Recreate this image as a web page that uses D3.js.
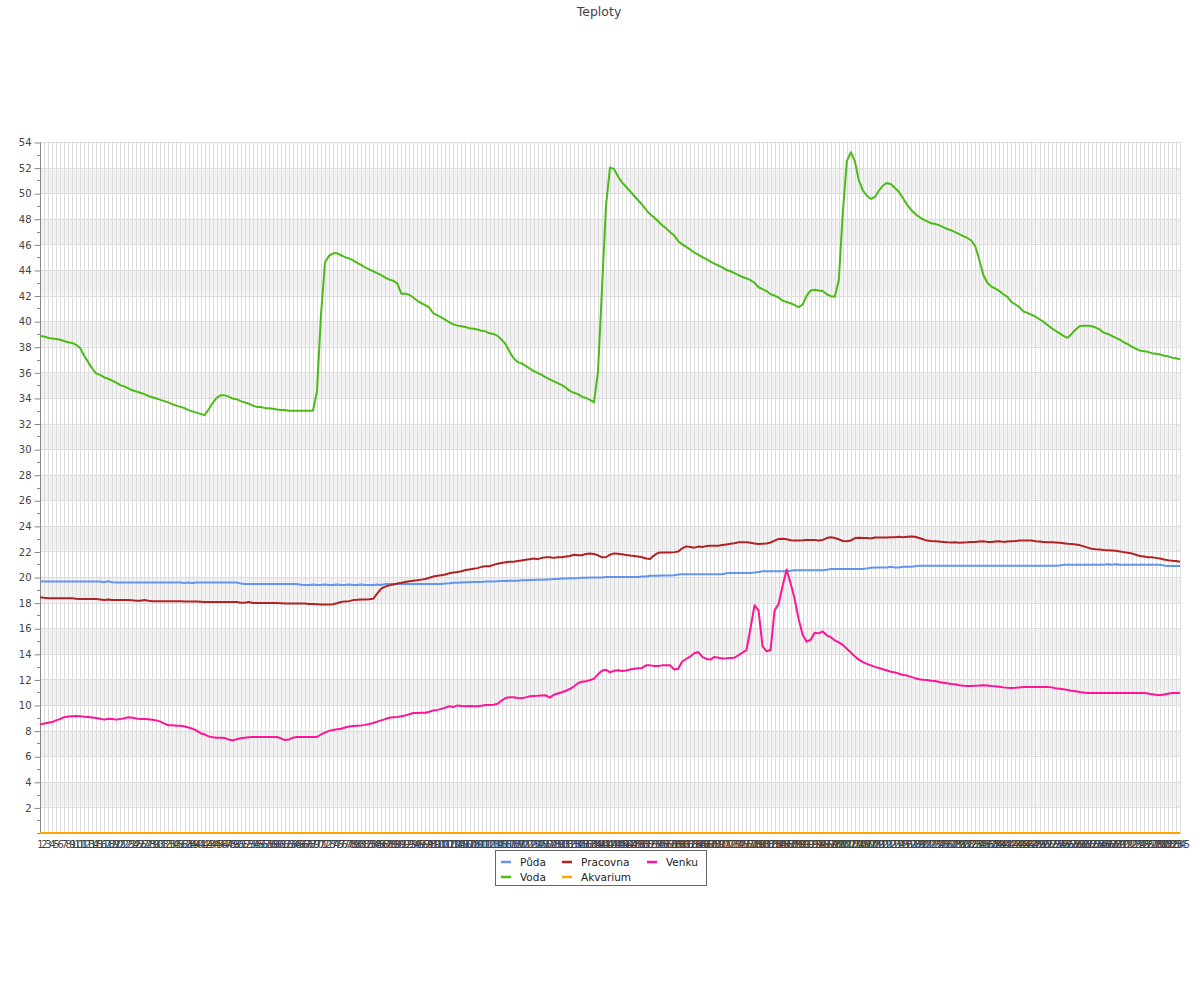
<!DOCTYPE html>
<html>
<head>
<meta charset="utf-8">
<script src="https://cdn.jsdelivr.net/npm/d3@7"></script>
<style>
  html, body { margin: 0; padding: 0; background: #fff; }
  svg { display: block; font-family: "DejaVu Sans", sans-serif; }
</style>
</head>
<body>
<svg id="chart" width="1200" height="1000"></svg>
<script>
// ---------- DATA ----------
const title = "Teploty";
const categories = d3.range(1, 286).map(String); // labels 1..285
const seriesNames = ["Půda", "Voda", "Pracovna", "Akvarium", "Venku"];
const seriesColors = ["#6495ED", "#4CBB17", "#B22222", "#FFA500", "#FF1493"];
const yTicks = [2,4,6,8,10,12,14,16,18,20,22,24,26,28,30,32,34,36,38,40,42,44,46,48,50,52,54];

const puda = [
19.65,19.65,19.65,19.65,19.65,19.65,19.65,19.65,19.65,19.65,
19.65,19.65,19.65,19.65,19.65,19.65,19.6,19.68,19.6,19.58,
19.58,19.58,19.58,19.58,19.58,19.58,19.58,19.58,19.58,19.58,
19.58,19.58,19.58,19.58,19.58,19.58,19.53,19.58,19.53,19.58,
19.58,19.58,19.58,19.58,19.58,19.58,19.58,19.58,19.58,19.58,
19.5,19.45,19.45,19.45,19.45,19.45,19.45,19.45,19.45,19.45,
19.45,19.45,19.45,19.45,19.45,19.4,19.38,19.38,19.42,19.38,
19.38,19.42,19.38,19.38,19.42,19.38,19.38,19.42,19.38,19.38,
19.42,19.38,19.38,19.38,19.42,19.38,19.45,19.45,19.45,19.45,
19.45,19.45,19.45,19.45,19.45,19.45,19.45,19.45,19.45,19.45,
19.45,19.5,19.52,19.55,19.55,19.58,19.6,19.6,19.62,19.62,
19.62,19.65,19.65,19.65,19.68,19.7,19.7,19.72,19.72,19.72,
19.75,19.75,19.78,19.78,19.8,19.8,19.82,19.82,19.85,19.85,
19.88,19.88,19.9,19.9,19.92,19.95,19.95,19.97,19.97,19.97,
19.97,20.0,20.0,20.0,20.0,20.0,20.0,20.0,20.0,20.0,
20.05,20.05,20.1,20.1,20.1,20.12,20.12,20.12,20.15,20.2,
20.22,20.22,20.22,20.22,20.22,20.22,20.22,20.22,20.22,20.22,
20.22,20.3,20.32,20.32,20.32,20.32,20.32,20.32,20.35,20.4,
20.45,20.45,20.45,20.45,20.45,20.45,20.45,20.5,20.53,20.53,
20.53,20.53,20.53,20.53,20.53,20.53,20.58,20.63,20.63,20.63,
20.63,20.63,20.63,20.63,20.63,20.63,20.68,20.72,20.75,20.75,
20.75,20.75,20.8,20.75,20.75,20.8,20.8,20.8,20.85,20.88,
20.88,20.88,20.88,20.88,20.88,20.88,20.88,20.88,20.88,20.88,
20.88,20.88,20.88,20.88,20.88,20.88,20.88,20.88,20.88,20.88,
20.88,20.88,20.88,20.88,20.88,20.88,20.88,20.88,20.88,20.88,
20.88,20.88,20.88,20.88,20.9,20.96,20.96,20.96,20.96,20.96,
20.96,20.96,20.96,20.96,20.96,20.96,21.0,20.96,21.0,20.96,
20.96,20.96,20.96,20.96,20.96,20.96,20.96,20.96,20.96,20.96,
20.9,20.86,20.86,20.86,20.86
];

const voda = [
38.85,38.8,38.7,38.65,38.6,38.55,38.45,38.35,38.3,38.15,
37.9,37.3,36.8,36.3,35.9,35.8,35.6,35.5,35.35,35.2,
35.0,34.9,34.75,34.6,34.5,34.4,34.3,34.15,34.05,33.95,
33.85,33.75,33.65,33.5,33.4,33.3,33.2,33.05,32.95,32.85,
32.75,32.65,33.1,33.6,34.0,34.2,34.2,34.1,33.95,33.9,
33.75,33.65,33.55,33.4,33.3,33.3,33.2,33.2,33.15,33.1,
33.05,33.05,33.0,33.0,33.0,33.0,33.0,33.0,33.0,34.5,
40.5,44.6,45.1,45.3,45.3,45.15,45.0,44.9,44.75,44.55,
44.4,44.2,44.05,43.9,43.75,43.6,43.4,43.25,43.15,42.95,
42.15,42.15,42.05,41.85,41.6,41.4,41.25,41.05,40.6,40.45,
40.3,40.1,39.9,39.75,39.65,39.6,39.55,39.45,39.4,39.35,
39.25,39.2,39.05,39.0,38.85,38.55,38.2,37.6,37.1,36.8,
36.7,36.5,36.3,36.1,35.95,35.8,35.6,35.45,35.3,35.15,
35.0,34.8,34.55,34.4,34.3,34.1,34.0,33.85,33.65,36.0,
42.5,49.0,52.0,51.9,51.3,50.85,50.5,50.15,49.8,49.45,
49.1,48.7,48.35,48.1,47.8,47.5,47.25,46.95,46.7,46.25,
46.0,45.8,45.6,45.35,45.2,45.0,44.85,44.65,44.5,44.35,
44.2,44.0,43.9,43.75,43.6,43.45,43.35,43.2,43.0,42.65,
42.5,42.35,42.1,42.0,41.85,41.6,41.5,41.4,41.25,41.1,
41.3,42.0,42.4,42.45,42.4,42.35,42.1,41.95,41.9,43.2,
48.5,52.5,53.2,52.5,51.0,50.2,49.8,49.55,49.7,50.2,
50.6,50.8,50.7,50.4,50.1,49.6,49.1,48.7,48.4,48.15,
47.95,47.8,47.65,47.6,47.5,47.35,47.2,47.1,46.95,46.8,
46.65,46.5,46.3,45.85,44.8,43.6,43.0,42.7,42.55,42.35,
42.1,41.9,41.5,41.3,41.1,40.75,40.65,40.5,40.35,40.15,
39.95,39.7,39.45,39.25,39.05,38.85,38.7,39.0,39.35,39.6,
39.65,39.65,39.6,39.5,39.35,39.1,39.0,38.85,38.7,38.55,
38.35,38.2,38.0,37.85,37.7,37.65,37.6,37.5,37.45,37.4,
37.3,37.25,37.15,37.1,37.03
];

const pracovna = [
18.42,18.38,18.35,18.35,18.35,18.35,18.35,18.35,18.35,18.3,
18.28,18.28,18.28,18.28,18.28,18.25,18.2,18.25,18.2,18.2,
18.2,18.2,18.2,18.18,18.15,18.15,18.2,18.15,18.12,18.12,
18.12,18.12,18.12,18.12,18.12,18.12,18.1,18.1,18.1,18.1,
18.08,18.05,18.05,18.05,18.05,18.05,18.05,18.05,18.05,18.05,
18.0,18.0,18.05,17.97,17.97,17.97,17.97,17.97,17.97,17.97,
17.95,17.93,17.93,17.93,17.93,17.93,17.93,17.9,17.9,17.88,
17.85,17.85,17.85,17.88,17.95,18.05,18.1,18.12,18.2,18.22,
18.25,18.25,18.27,18.3,18.7,19.1,19.25,19.35,19.42,19.5,
19.55,19.62,19.68,19.72,19.75,19.8,19.85,19.95,20.05,20.1,
20.15,20.2,20.3,20.35,20.4,20.45,20.55,20.6,20.65,20.7,
20.8,20.85,20.85,20.95,21.05,21.1,21.15,21.2,21.2,21.25,
21.3,21.35,21.4,21.45,21.4,21.5,21.55,21.55,21.5,21.55,
21.55,21.6,21.65,21.75,21.7,21.7,21.8,21.85,21.8,21.7,
21.55,21.55,21.75,21.85,21.82,21.78,21.72,21.68,21.65,21.6,
21.55,21.45,21.42,21.7,21.9,21.92,21.92,21.92,21.95,22.0,
22.25,22.4,22.35,22.3,22.38,22.35,22.42,22.45,22.45,22.45,
22.5,22.55,22.6,22.65,22.72,22.72,22.72,22.68,22.62,22.58,
22.6,22.62,22.7,22.85,22.98,23.0,22.95,22.88,22.85,22.85,
22.87,22.9,22.9,22.9,22.85,22.9,23.05,23.12,23.05,22.95,
22.82,22.8,22.85,23.05,23.08,23.05,23.05,23.02,23.1,23.1,
23.1,23.1,23.12,23.12,23.15,23.12,23.15,23.18,23.15,23.05,
22.95,22.85,22.82,22.8,22.78,22.75,22.72,22.7,22.72,22.68,
22.7,22.72,22.75,22.75,22.78,22.8,22.75,22.75,22.78,22.8,
22.75,22.78,22.8,22.82,22.85,22.85,22.85,22.85,22.8,22.78,
22.75,22.72,22.72,22.7,22.68,22.65,22.6,22.58,22.55,22.5,
22.4,22.3,22.22,22.18,22.15,22.12,22.1,22.08,22.05,22.0,
21.95,21.9,21.85,21.75,21.65,21.6,21.55,21.55,21.5,21.45,
21.38,21.32,21.28,21.25,21.2
];

const akvarium = [
0,0,0,0,0,0,0,0,0,0, 0,0,0,0,0,0,0,0,0,0, 0,0,0,0,0,0,0,0,0,0,
0,0,0,0,0,0,0,0,0,0, 0,0,0,0,0,0,0,0,0,0, 0,0,0,0,0,0,0,0,0,0,
0,0,0,0,0,0,0,0,0,0, 0,0,0,0,0,0,0,0,0,0, 0,0,0,0,0,0,0,0,0,0,
0,0,0,0,0,0,0,0,0,0, 0,0,0,0,0,0,0,0,0,0, 0,0,0,0,0,0,0,0,0,0,
0,0,0,0,0,0,0,0,0,0, 0,0,0,0,0,0,0,0,0,0, 0,0,0,0,0,0,0,0,0,0,
0,0,0,0,0,0,0,0,0,0, 0,0,0,0,0,0,0,0,0,0, 0,0,0,0,0,0,0,0,0,0,
0,0,0,0,0,0,0,0,0,0, 0,0,0,0,0,0,0,0,0,0, 0,0,0,0,0,0,0,0,0,0,
0,0,0,0,0,0,0,0,0,0, 0,0,0,0,0,0,0,0,0,0, 0,0,0,0,0,0,0,0,0,0,
0,0,0,0,0,0,0,0,0,0, 0,0,0,0,0,0,0,0,0,0, 0,0,0,0,0,0,0,0,0,0,
0,0,0,0,0,0,0,0,0,0, 0,0,0,0,0
];

const venku = [
8.49,8.55,8.62,8.67,8.8,8.9,9.05,9.1,9.12,9.14,
9.12,9.08,9.06,9.02,8.98,8.92,8.86,8.93,8.9,8.86,
8.9,8.96,9.05,9.0,8.95,8.9,8.9,8.88,8.85,8.8,
8.7,8.55,8.42,8.42,8.38,8.38,8.33,8.25,8.15,8.0,
7.8,7.7,7.55,7.48,7.45,7.44,7.43,7.3,7.24,7.32,
7.4,7.45,7.48,7.5,7.5,7.5,7.5,7.5,7.5,7.5,
7.4,7.26,7.3,7.45,7.5,7.5,7.5,7.5,7.5,7.5,
7.7,7.85,7.98,8.05,8.1,8.15,8.25,8.33,8.36,8.39,
8.41,8.45,8.52,8.6,8.7,8.8,8.9,9.01,9.05,9.06,
9.12,9.19,9.28,9.38,9.38,9.4,9.4,9.48,9.58,9.62,
9.7,9.8,9.9,9.84,9.97,9.92,9.9,9.93,9.9,9.9,
9.95,10.0,10.0,10.02,10.1,10.35,10.55,10.6,10.6,10.55,
10.53,10.6,10.68,10.7,10.72,10.75,10.76,10.58,10.8,10.9,
11.0,11.12,11.25,11.45,11.7,11.82,11.85,11.95,12.05,12.4,
12.68,12.76,12.55,12.68,12.72,12.66,12.7,12.78,12.84,12.88,
12.9,13.1,13.1,13.05,13.05,13.1,13.1,13.1,12.77,12.84,
13.4,13.6,13.8,14.05,14.14,13.76,13.6,13.55,13.76,13.7,
13.63,13.65,13.68,13.7,13.89,14.1,14.3,16.0,17.8,17.4,
14.6,14.2,14.3,17.4,17.9,19.3,20.6,19.5,18.3,16.7,
15.5,14.95,15.1,15.65,15.6,15.75,15.45,15.3,15.05,14.9,
14.7,14.4,14.1,13.8,13.55,13.35,13.22,13.1,12.98,12.9,
12.8,12.7,12.6,12.55,12.45,12.35,12.3,12.2,12.1,12.02,
11.98,11.95,11.9,11.88,11.8,11.75,11.7,11.65,11.62,11.55,
11.5,11.48,11.48,11.5,11.52,11.55,11.52,11.48,11.46,11.42,
11.38,11.35,11.33,11.35,11.38,11.4,11.41,11.41,11.41,11.41,
11.41,11.41,11.38,11.32,11.28,11.23,11.18,11.12,11.07,11.02,
10.98,10.95,10.94,10.94,10.94,10.94,10.94,10.94,10.94,10.94,
10.94,10.94,10.94,10.94,10.94,10.94,10.9,10.85,10.8,10.76,
10.82,10.88,10.94,10.94,10.94
];

const seriesValues = [puda, voda, pracovna, akvarium, venku];

// ---------- LAYOUT ----------
const plotLeft = 40, plotRight = 1180, plotTop = 142, plotBottom = 833;
const svg = d3.select("#chart");
svg.append("rect").attr("width", 1200).attr("height", 1000).attr("fill", "#fff");

const x = d3.scalePoint().domain(categories).range([plotLeft, plotRight]);
const y = d3.scaleLinear().domain([0, 54]).range([plotBottom, plotTop]);

// title
svg.append("text").attr("x", 599).attr("y", 15.5).attr("text-anchor", "middle")
  .attr("font-size", "12.5px").attr("fill", "#444").text(title);

// alternating bands
const bandStarts = yTicks.filter(v => v % 4 === 2 && v < 54);
svg.append("g").selectAll("rect").data(bandStarts).join("rect")
  .attr("x", plotLeft).attr("width", plotRight - plotLeft)
  .attr("y", d => y(d + 2)).attr("height", d => y(d) - y(d + 2))
  .attr("fill", "#f2f2f2");

// vertical grid
svg.append("g").selectAll("line").data(categories).join("line")
  .attr("x1", d => Math.round(x(d)) + 0.5).attr("x2", d => Math.round(x(d)) + 0.5)
  .attr("y1", plotTop).attr("y2", plotBottom)
  .attr("stroke", "#dddddd").attr("stroke-width", 1);

// horizontal grid
svg.append("g").selectAll("line").data(yTicks).join("line")
  .attr("x1", plotLeft).attr("x2", plotRight)
  .attr("y1", d => Math.round(y(d)) + 0.5).attr("y2", d => Math.round(y(d)) + 0.5)
  .attr("stroke", "#dddddd").attr("stroke-width", 1);

// y axis
const yAxis = d3.axisLeft(y).tickValues(yTicks).tickSize(6).tickPadding(3);
const gy = svg.append("g").attr("transform", `translate(${plotLeft + 0.5},0.5)`).call(yAxis);
gy.select(".domain").attr("stroke", "#888").attr("d", `M0,${plotTop}V${plotBottom}`);
gy.selectAll(".tick line").attr("stroke", "#888");
gy.selectAll(".tick text").attr("fill", "#444").attr("font-size", "10px")
  .attr("font-family", "DejaVu Sans, sans-serif");
// minor ticks
const minorVals = [0,1,3,5,7,9,11,13,15,17,19,21,23,25,27,29,31,33,35,37,39,41,43,45,47,49,51,53];
svg.append("g").selectAll("line").data(minorVals).join("line")
  .attr("x1", plotLeft - 3).attr("x2", plotLeft)
  .attr("y1", d => Math.round(y(d)) + 0.5).attr("y2", d => Math.round(y(d)) + 0.5)
  .attr("stroke", "#888");

// x axis
const xAxis = d3.axisBottom(x).tickSize(0).tickPadding(8);
const gx = svg.append("g").attr("transform", `translate(0,${plotBottom})`).call(xAxis);
gx.select(".domain").attr("stroke", "#888");
gx.selectAll(".tick text").attr("fill", "#444").attr("font-size", "10px")
  .attr("font-family", "DejaVu Sans, sans-serif");

// series
const line = d3.line().x((d, i) => x(categories[i])).y(d => y(d));
svg.append("g").selectAll("path").data(seriesValues).join("path")
  .attr("d", d => line(d))
  .attr("fill", "none")
  .attr("stroke", (d, i) => seriesColors[i])
  .attr("stroke-width", 2)
  .attr("stroke-linejoin", "round");

// legend
const lg = svg.append("g");
lg.append("rect").attr("x", 495.5).attr("y", 850.5).attr("width", 211).attr("height", 35)
  .attr("fill", "#fff").attr("stroke", "#666");
const colX = [501, 562, 647];
const rowY = [862, 877];
seriesNames.forEach((name, i) => {
  const c = Math.floor(i / 2), r = i % 2;
  lg.append("line").attr("x1", colX[c]).attr("x2", colX[c] + 10)
    .attr("y1", rowY[r]).attr("y2", rowY[r])
    .attr("stroke", seriesColors[i]).attr("stroke-width", 2.5);
  lg.append("text").attr("x", colX[c] + 19).attr("y", rowY[r] + 4)
    .attr("font-size", "10.5px").attr("fill", "#222").text(name);
});
</script>
</body>
</html>
